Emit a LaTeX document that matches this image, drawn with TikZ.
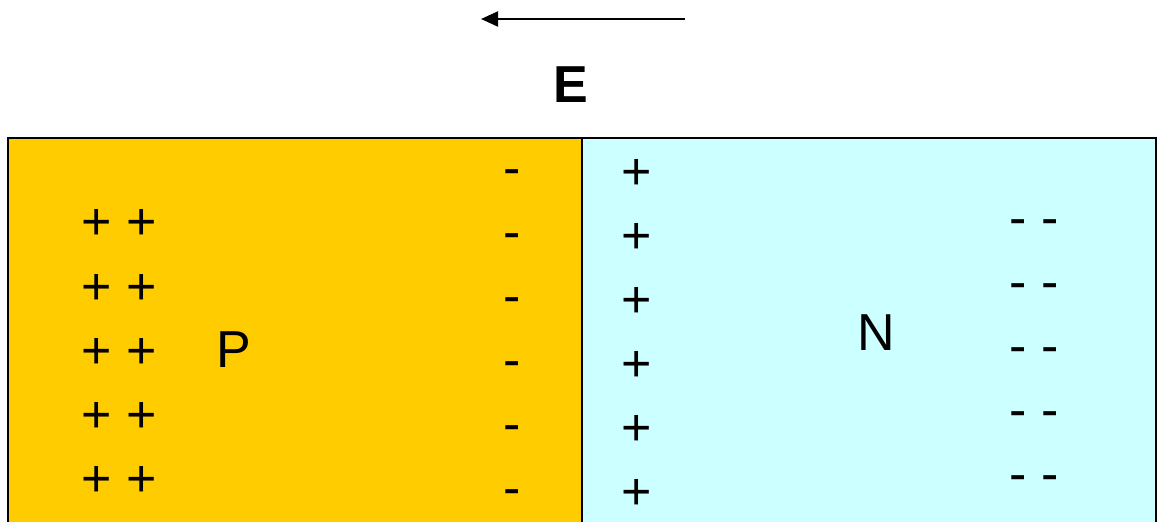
\documentclass[tikz,border=0pt]{standalone}
\usepackage{fontspec}
\setmainfont{Liberation Sans}
\usetikzlibrary{arrows.meta}
\definecolor{pyellow}{HTML}{FFCC00}
\definecolor{ncyan}{HTML}{CCFFFF}
\begin{document}
\begin{tikzpicture}[x=1pt,y=-1pt,
  sign/.style={font=\fontsize{52}{60}\selectfont, inner sep=0pt, anchor=base},
  region/.style={draw=black, line width=2pt},
  field/.style={line width=2pt, -{Triangle[length=17pt,width=15pt]}}]
\useasboundingbox (0,0) rectangle (1157,522);
\clip (0,0) rectangle (1157,522);
% regions
\path[region, fill=pyellow] (8,138) rectangle (582,540);
\path[region, fill=ncyan] (582,138) rectangle (1156,540);
\node[inner sep=0pt] (Pregion) at (295,330) {};
% field arrow
\coordinate (Estart) at (685,19);
\coordinate (Eend) at (481,19);
\draw[field] (Estart) -- (Eend);
\node[sign, font=\fontsize{52}{60}\selectfont\bfseries] (E) at (571,102) {E};
% labels
\node[sign] (P) at (234,367) {P};
\node[sign] (N) at (876,350) {N};
% left ++ rows
\foreach \i/\y in {1/239,2/304,3/368,4/432,5/496}
  \node[sign] (lp\i) at (119,\y) {+ +};
% left minus column
\foreach \i/\y in {1/185,2/249,3/313,4/377,5/441,6/505}
  \node[sign] (lm\i) at (512,\y) {-};
% right plus column
\foreach \i/\y in {1/189,2/253,3/317,4/381,5/445,6/509}
  \node[sign] (rp\i) at (637,\y) {+};
% right -- rows
\foreach \i/\y in {1/235,2/299,3/363,4/427,5/491}
  \node[sign] (rm\i) at (1034,\y) {- -};
\end{tikzpicture}
\end{document}
